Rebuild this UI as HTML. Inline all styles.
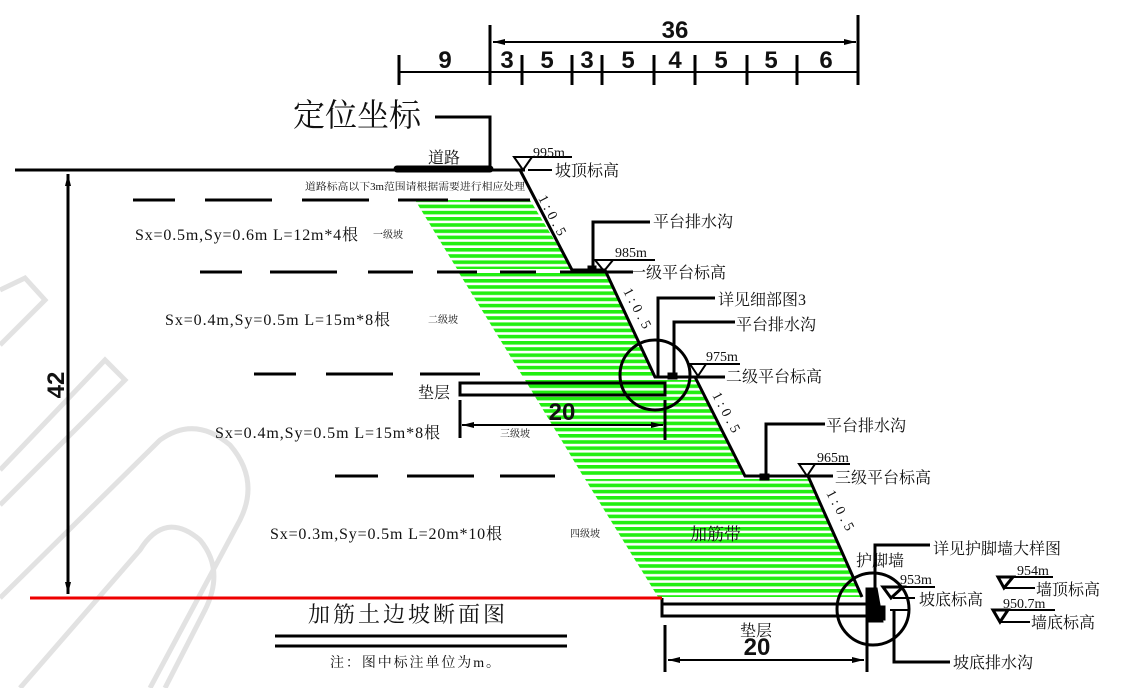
<!DOCTYPE html>
<html><head><meta charset="utf-8"><style>
html,body{margin:0;padding:0;background:#fff;}
svg{display:block;}
text{font-family:"Liberation Serif","Noto Serif CJK SC","Noto Sans CJK SC",serif;fill:#111;}
.b{font-family:"Liberation Sans","Noto Sans CJK SC",sans-serif;font-weight:bold;}
</style></head><body>
<svg width="1129" height="688" viewBox="0 0 1129 688" xmlns="http://www.w3.org/2000/svg">
<defs>
<pattern id="g" width="10" height="6.2" patternUnits="userSpaceOnUse">
<rect x="0" y="0" width="10" height="3.6" fill="#22ee11"/>
</pattern>
<marker id="a" markerWidth="12" markerHeight="6" refX="12" refY="3" orient="auto" markerUnits="userSpaceOnUse"><path d="M0,0 L12,3 L0,6z" fill="#000"/></marker>
<marker id="as" markerWidth="12" markerHeight="6" refX="0" refY="3" orient="auto" markerUnits="userSpaceOnUse"><path d="M12,0 L0,3 L12,6z" fill="#000"/></marker>
</defs>
<!-- watermark -->
<g fill="none" stroke="#e2e2e2" stroke-width="5">
<path d="M0,290 L25,278 L45,300 L0,345"/>
<path d="M0,470 L105,360 L125,380 L0,505"/>
<path d="M0,598 L160,440 Q195,415 230,445 Q260,480 240,520 L150,688"/>
<path d="M20,688 L140,550 Q165,510 200,540 Q225,570 205,610 L165,688"/>
</g>
<!-- green bands -->
<polygon points="415,200 530,200 572,269 457,269" fill="url(#g)"/>
<polygon points="459,273 605,273 655,377 523,377" fill="url(#g)"/>
<polygon points="525,380 695,380 745,476 583,476" fill="url(#g)"/>
<polygon points="585,479 808,479 862,597 658,597" fill="url(#g)"/>
<g stroke="#000" fill="none">
<g stroke-width="3">
<line x1="399" y1="55" x2="399" y2="85"/><line x1="490" y1="25" x2="490" y2="85"/>
<line x1="858" y1="15" x2="858" y2="85"/>
<line x1="522" y1="55" x2="522" y2="85"/><line x1="572" y1="55" x2="572" y2="85"/>
<line x1="602" y1="55" x2="602" y2="85"/><line x1="654" y1="55" x2="654" y2="85"/>
<line x1="695" y1="55" x2="695" y2="85"/><line x1="747" y1="55" x2="747" y2="85"/>
<line x1="797" y1="55" x2="797" y2="85"/>
</g>
<line x1="400" y1="72" x2="857" y2="72" stroke-width="2"/>
<line x1="493" y1="42" x2="856" y2="42" stroke-width="2" marker-start="url(#as)" marker-end="url(#a)"/>
<polyline points="435,117 490,117 490,168" stroke-width="3"/>
<line x1="15" y1="170" x2="525" y2="170" stroke-width="3"/>
<line x1="397" y1="169" x2="490" y2="169" stroke-width="7" stroke-linecap="round"/>
<path d="M514,157 L532,157 L523,170z" stroke-width="2"/>
<line x1="514" y1="157" x2="572" y2="157" stroke-width="2"/>
<line x1="528" y1="170" x2="552" y2="170" stroke-width="2"/>
<polyline points="520,170 572,270 605,270 655,377 695,377 745,476 808,476 862,597" stroke-width="3"/>
<g stroke-width="3">
<path d="M133,200h42M205,200h67M302,200h67M398,200h50M470,200h60"/>
<path d="M200,272h42M270,272h67M368,272h45M437,272h40M500,272h36M560,272h45"/>
<path d="M254,374h42M326,374h67M420,374h60"/>
<path d="M335,476h43M407,476h67M500,476h55"/>
<path d="M605,272h28M655,377h10M695,377h30M808,476h25"/>
</g>
<line x1="68" y1="174" x2="68" y2="594" stroke-width="3" marker-start="url(#as)" marker-end="url(#a)"/>
<polyline points="593,270 593,222 650,222" stroke-width="3"/>
<rect x="588" y="266" width="8" height="6" fill="#000"/>
<path d="M595,260 L613,260 L604,271z" stroke-width="2"/>
<line x1="595" y1="260" x2="655" y2="260" stroke-width="2"/>
<circle cx="655" cy="375" r="35" stroke-width="3"/>
<polyline points="658,378 658,298 715,298" stroke-width="3"/>
<polyline points="674,375 674,322 735,322" stroke-width="3"/>
<rect x="668" y="373" width="9" height="6" fill="#000"/>
<path d="M690,364 L706,364 L698,376z" stroke-width="2"/>
<line x1="690" y1="364" x2="740" y2="364" stroke-width="2"/>
<line x1="705" y1="377" x2="725" y2="377" stroke-width="2"/>
<rect x="460" y="383" width="205" height="12" stroke-width="3"/>
<line x1="460" y1="400" x2="460" y2="438" stroke-width="3"/>
<line x1="665" y1="400" x2="665" y2="440" stroke-width="3"/>
<line x1="462" y1="425" x2="663" y2="425" stroke-width="2" marker-start="url(#as)" marker-end="url(#a)"/>
<polyline points="766,476 766,424 825,424" stroke-width="3"/>
<rect x="760" y="474" width="9" height="6" fill="#000"/>
<path d="M799,464 L815,464 L807,476z" stroke-width="2"/>
<line x1="799" y1="464" x2="850" y2="464" stroke-width="2"/>
<circle cx="873" cy="609" r="36" stroke-width="3"/>
<rect x="662" y="604" width="210" height="12" stroke-width="3"/>
<line x1="662" y1="598" x2="662" y2="604" stroke-width="3"/>
<line x1="665" y1="625" x2="665" y2="672" stroke-width="3"/>
<line x1="867" y1="615" x2="867" y2="672" stroke-width="3"/>
<line x1="668" y1="660" x2="864" y2="660" stroke-width="2" marker-start="url(#as)" marker-end="url(#a)"/>
<polygon points="866,588 877,588 883,622 866,622" fill="#000"/>
<rect x="877" y="606" width="8" height="14" fill="#000"/>
<polyline points="875,592 875,545 930,545" stroke-width="3"/>
<path d="M883,587 L903,587 L891,598z" stroke-width="3"/>
<line x1="883" y1="587" x2="935" y2="587" stroke-width="2"/>
<line x1="893" y1="598" x2="915" y2="598" stroke-width="2"/>
<polyline points="894,610 894,662 950,662" stroke-width="3"/>
<line x1="890" y1="610" x2="910" y2="610" stroke-width="2"/>
<path d="M998,577 L1013,577 L1004,588z" stroke-width="3"/>
<line x1="998" y1="577" x2="1053" y2="577" stroke-width="2"/>
<line x1="1004" y1="588" x2="1035" y2="588" stroke-width="2"/>
<path d="M993,610 L1008,610 L1000,622z" stroke-width="3"/>
<line x1="993" y1="610" x2="1055" y2="610" stroke-width="2"/>
<line x1="1000" y1="622" x2="1030" y2="622" stroke-width="2"/>
<line x1="275" y1="636" x2="567" y2="636" stroke-width="3"/>
<line x1="275" y1="646" x2="567" y2="646" stroke-width="3"/>
</g>
<line x1="30" y1="598" x2="662" y2="598" stroke="#e00" stroke-width="3"/>
<g font-size="24" text-anchor="middle">
<text class="b" x="445" y="68">9</text><text class="b" x="507" y="68">3</text>
<text class="b" x="547" y="68">5</text><text class="b" x="587" y="68">3</text>
<text class="b" x="628" y="68">5</text><text class="b" x="675" y="68">4</text>
<text class="b" x="721" y="68">5</text><text class="b" x="771" y="68">5</text>
<text class="b" x="826" y="68">6</text><text class="b" x="675" y="38">36</text>
<text class="b" x="562" y="420">20</text><text class="b" x="757" y="655">20</text>
</g>
<text class="b" font-size="24" text-anchor="middle" transform="translate(64,385) rotate(-90)">42</text>
<text x="293" y="126" font-size="32">定位坐标</text>
<text x="428" y="163" font-size="16">道路</text>
<text x="533" y="157" font-size="14">995m</text>
<text x="555" y="176" font-size="16">坡顶标高</text>
<text x="305" y="190" font-size="10" textLength="220" lengthAdjust="spacingAndGlyphs">道路标高以下3m范围请根据需要进行相应处理</text>
<text x="135" y="240" font-size="16" textLength="223" lengthAdjust="spacing">Sx=0.5m,Sy=0.6m L=12m*4根</text>
<text x="373" y="238" font-size="10">一级坡</text>
<text x="165" y="325" font-size="16" textLength="225" lengthAdjust="spacing">Sx=0.4m,Sy=0.5m L=15m*8根</text>
<text x="428" y="323" font-size="10">二级坡</text>
<text x="215" y="438" font-size="16" textLength="225" lengthAdjust="spacing">Sx=0.4m,Sy=0.5m L=15m*8根</text>
<text x="500" y="437" font-size="10">三级坡</text>
<text x="270" y="539" font-size="16" textLength="232" lengthAdjust="spacing">Sx=0.3m,Sy=0.5m L=20m*10根</text>
<text x="570" y="537" font-size="10">四级坡</text>
<text x="690" y="540" font-size="17">加筋带</text>
<text x="653" y="227" font-size="16">平台排水沟</text>
<text x="615" y="257" font-size="14">985m</text>
<text x="630" y="278" font-size="16">一级平台标高</text>
<text x="718" y="305" font-size="16">详见细部图3</text>
<text x="736" y="330" font-size="16">平台排水沟</text>
<text x="706" y="361" font-size="14">975m</text>
<text x="726" y="382" font-size="16">二级平台标高</text>
<text x="418" y="398" font-size="16">垫层</text>
<text x="826" y="431" font-size="16">平台排水沟</text>
<text x="817" y="462" font-size="14">965m</text>
<text x="835" y="483" font-size="16">三级平台标高</text>
<text x="933" y="554" font-size="16">详见护脚墙大样图</text>
<text x="856" y="566" font-size="16">护脚墙</text>
<text x="900" y="584" font-size="14">953m</text>
<text x="919" y="605" font-size="16">坡底标高</text>
<text x="1017" y="575" font-size="14">954m</text>
<text x="1036" y="595" font-size="16">墙顶标高</text>
<text x="1003" y="608" font-size="14">950.7m</text>
<text x="1031" y="628" font-size="16">墙底标高</text>
<text x="740" y="636" font-size="16">垫层</text>
<text x="953" y="668" font-size="16">坡底排水沟</text>
<text x="308" y="622" font-size="22" textLength="197">加筋土边坡断面图</text>
<text x="330" y="667" font-size="14" textLength="170">注：图中标注单位为m。</text>
<g font-size="14">
<text transform="translate(538,198) rotate(62)" textLength="44">1:0.5</text>
<text transform="translate(623,291) rotate(62)" textLength="44">1:0.5</text>
<text transform="translate(712,395) rotate(62)" textLength="44">1:0.5</text>
<text transform="translate(826,493) rotate(62)" textLength="44">1:0.5</text>
</g>
</svg>
</body></html>
